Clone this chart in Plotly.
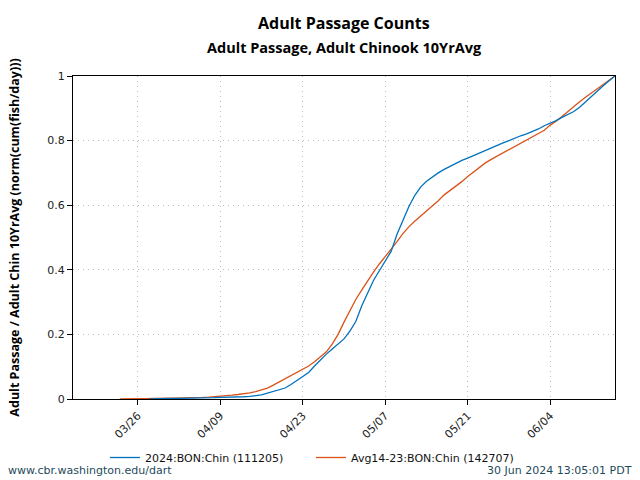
import plotly.graph_objects as go
import pandas as pd

start_date = "2024-03-15"
n_days = 93
dates = pd.date_range(start_date, periods=n_days, freq="D")

series_2024_name = "2024:BON:Chin (111205)"
series_avg_name = "Avg14-23:BON:Chin (142707)"

# normalized cumulative passage, 2024
blue_vals = [None] * 13 + [
    0.0, 0.001, 0.001, 0.001, 0.002, 0.002, 0.002, 0.003,
    0.003, 0.003, 0.004, 0.004, 0.005,
    0.005, 0.006, 0.006, 0.007, 0.008, 0.010,
    0.013, 0.018, 0.024, 0.029, 0.034, 0.045, 0.058, 0.069, 0.082,
    0.102, 0.122, 0.139, 0.155, 0.170, 0.186, 0.210, 0.240, 0.288,
    0.330, 0.367, 0.397, 0.425, 0.457, 0.510, 0.555, 0.595, 0.630,
    0.656, 0.674, 0.688, 0.700, 0.711, 0.721, 0.730, 0.739, 0.746,
    0.754, 0.763, 0.771, 0.778, 0.786, 0.793, 0.800, 0.808, 0.815,
    0.821, 0.828, 0.836, 0.846, 0.853, 0.862, 0.872, 0.882, 0.890,
    0.903, 0.920, 0.938, 0.955, 0.970, 0.985, 1.0,
]

# normalized cumulative passage, 10-year average
orange_vals = [None] * 8 + [
    0.0, 0.001, 0.001, 0.001, 0.001, 0.002, 0.002, 0.002,
    0.003, 0.003, 0.003, 0.004, 0.004,
    0.005, 0.005, 0.006, 0.007, 0.008,
    0.010, 0.012, 0.014, 0.016, 0.019,
    0.023, 0.028, 0.034, 0.043, 0.053, 0.062, 0.072, 0.082, 0.091,
    0.102, 0.115, 0.130, 0.146, 0.170, 0.200, 0.238, 0.275, 0.308,
    0.337, 0.366, 0.393, 0.418, 0.440, 0.462, 0.487, 0.512, 0.533,
    0.550, 0.566, 0.580, 0.595, 0.614, 0.632, 0.646, 0.658, 0.673,
    0.689, 0.703, 0.718, 0.731, 0.742, 0.752, 0.763, 0.773, 0.783,
    0.792, 0.801, 0.811, 0.822, 0.832, 0.848, 0.860, 0.875, 0.891,
    0.905, 0.920, 0.934, 0.947, 0.960, 0.973, 0.986, 1.0,
]

y_tick_vals = [0, 0.2, 0.4, 0.6, 0.8, 1]
y_tick_text = ["0", "0.2", "0.4", "0.6", "0.8", "1"]

BLUE = "#0072BD"
ORANGE = "#D95319"

W, H = 640, 480
ML, MR, MT, MB = 73, 25, 76, 81
plot_w = W - ML - MR
plot_h = H - MT - MB


def paper_x(px):
    return (px - ML) / plot_w


def paper_y(px):
    return (H - MB - px) / plot_h


fig = go.Figure()
fig.add_trace(go.Scatter(
    x=dates, y=orange_vals, mode="lines", name=series_avg_name,
    line=dict(color=ORANGE, width=1.3), legendrank=2,
))
fig.add_trace(go.Scatter(
    x=dates, y=blue_vals, mode="lines", name=series_2024_name,
    line=dict(color=BLUE, width=1.3), legendrank=1,
))

tick_font = dict(family="DejaVu Sans", size=11, color="#222222")
footer_font = dict(family="DejaVu Sans", size=11, color="#1d4a5a")

fig.update_layout(
    width=W, height=H,
    margin=dict(l=ML, r=MR, t=MT, b=MB, autoexpand=False),
    paper_bgcolor="white", plot_bgcolor="white",
    showlegend=True,
    legend=dict(
        orientation="h", x=paper_x(105), xanchor="left",
        y=paper_y(443), yanchor="top",
        font=dict(family="DejaVu Sans", size=11, color="#111111"),
        entrywidth=161, tracegroupgap=0, bgcolor="rgba(0,0,0,0)",
    ),
    annotations=[
        dict(text="<b>Adult Passage Counts</b>", x=0.5, xref="paper",
             y=paper_y(23), yref="paper", yanchor="middle", showarrow=False,
             font=dict(family="Open Sans", size=16, color="#000000")),
        dict(text="<b>Adult Passage, Adult Chinook 10YrAvg</b>", x=0.5, xref="paper",
             y=paper_y(47), yref="paper", yanchor="middle", showarrow=False,
             font=dict(family="Open Sans", size=14.5, color="#000000")),
        dict(text="www.cbr.washington.edu/dart", x=paper_x(6), xref="paper",
             xanchor="left", y=paper_y(470), yref="paper", yanchor="middle",
             showarrow=False, font=footer_font),
        dict(text="30 Jun 2024 13:05:01 PDT", x=paper_x(634), xref="paper",
             xanchor="right", y=paper_y(470), yref="paper", yanchor="middle",
             showarrow=False, font=footer_font),
    ],
)

fig.update_xaxes(
    range=["2024-03-15", "2024-06-15"],
    tick0="2024-03-26", dtick=14 * 24 * 3600 * 1000,
    tickformat="%m/%d", tickangle=-45,
    ticks="outside", ticklen=5, tickcolor="#000000",
    showline=True, linecolor="#000000", linewidth=1, mirror=True,
    showgrid=True, gridcolor="#bdbdbd", griddash="1px,4px", gridwidth=1,
    zeroline=False, tickfont=tick_font, automargin=False,
)
fig.update_yaxes(
    range=[0, 1], tickvals=y_tick_vals, ticktext=y_tick_text,
    ticks="outside", ticklen=5, tickcolor="#000000",
    showline=True, linecolor="#000000", linewidth=1, mirror=True,
    showgrid=True, gridcolor="#bdbdbd", griddash="1px,4px", gridwidth=1,
    zeroline=False, tickfont=tick_font, automargin=False,
    title=dict(text="<b>Adult Passage / Adult Chin 10YrAvg (norm(cum(fish/day)))</b>",
               font=dict(family="Open Sans", size=12.5, color="#000000"), standoff=24),
)

fig.write_html("out.html")
